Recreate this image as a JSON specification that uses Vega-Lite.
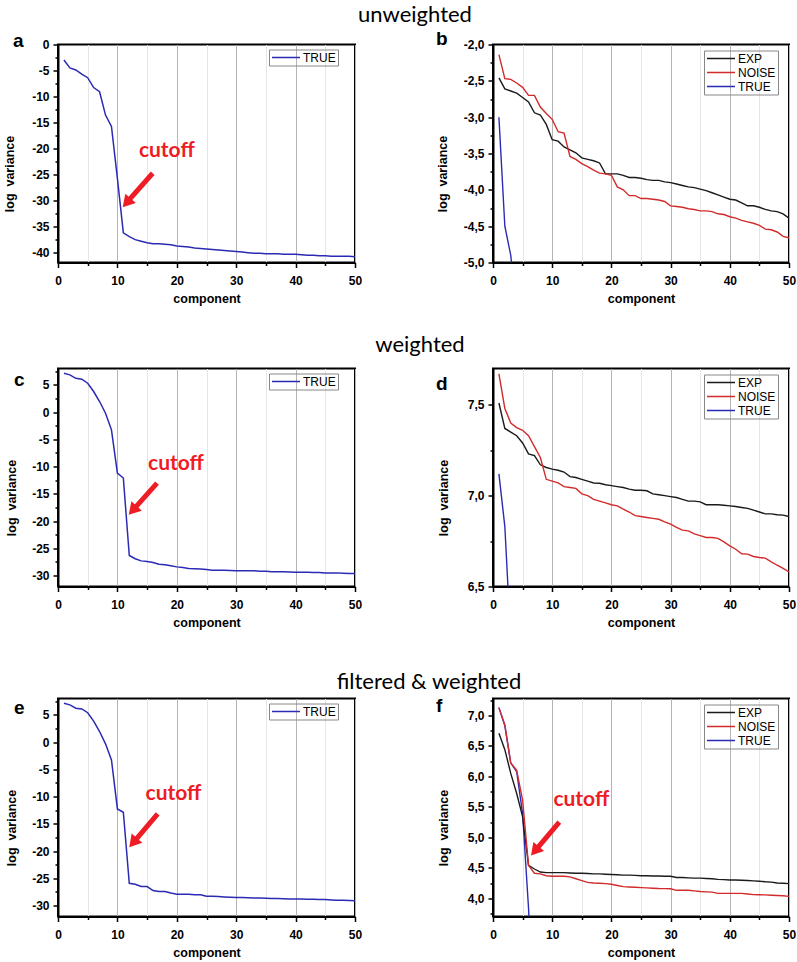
{
"$schema": "https://vega.github.io/schema/vega-lite/v6.json",
"background": "white",
"padding": {"left": 2, "top": 3.5, "right": 2, "bottom": 2},
"config": {
  "font": "Liberation Sans",
  "view": {"stroke": "black", "strokeWidth": 2},
  "axis": {"labelFont": "Liberation Sans", "labelFontWeight": "bold", "labelFontSize": 12, "labelColor": "black", "titleFont": "Liberation Sans", "titleFontWeight": "bold", "titleFontSize": 12.5, "titleColor": "black", "domainColor": "black", "domainWidth": 2, "tickColor": "black", "tickWidth": 1.5, "labelOverlap": false, "labelFlush": false},
  "axisX": {"labelPadding": 8},
  "axisY": {"labelPadding": 4, "grid": false},
  "legend": {"symbolType": "stroke", "symbolSize": 784, "symbolStrokeWidth": 1.5, "labelFont": "Liberation Sans", "labelFontSize": 12, "labelColor": "black", "labelOffset": 2, "rowPadding": 2, "clipHeight": 12, "padding": 2, "strokeColor": "#888888", "cornerRadius": 0}
},
"datasets": {
  "unweighted": [
    {"series":"TRUE","component":1,"value":-3.0},{"series":"TRUE","component":2,"value":-4.5},{"series":"TRUE","component":3,"value":-4.9},{"series":"TRUE","component":4,"value":-5.7},{"series":"TRUE","component":5,"value":-6.4},{"series":"TRUE","component":6,"value":-8.3},{"series":"TRUE","component":7,"value":-9.1},{"series":"TRUE","component":8,"value":-13.6},{"series":"TRUE","component":9,"value":-15.8},{"series":"TRUE","component":10,"value":-25.8},
    {"series":"TRUE","component":11,"value":-36.3},{"series":"TRUE","component":12,"value":-37.0},{"series":"TRUE","component":13,"value":-37.6},{"series":"TRUE","component":14,"value":-37.9},{"series":"TRUE","component":15,"value":-38.2},{"series":"TRUE","component":16,"value":-38.4},{"series":"TRUE","component":17,"value":-38.4},{"series":"TRUE","component":18,"value":-38.5},{"series":"TRUE","component":19,"value":-38.6},{"series":"TRUE","component":20,"value":-38.8},
    {"series":"TRUE","component":21,"value":-38.9},{"series":"TRUE","component":22,"value":-39.0},{"series":"TRUE","component":23,"value":-39.2},{"series":"TRUE","component":24,"value":-39.3},{"series":"TRUE","component":25,"value":-39.4},{"series":"TRUE","component":26,"value":-39.5},{"series":"TRUE","component":27,"value":-39.6},{"series":"TRUE","component":28,"value":-39.7},{"series":"TRUE","component":29,"value":-39.8},{"series":"TRUE","component":30,"value":-39.9},
    {"series":"TRUE","component":31,"value":-40.0},{"series":"TRUE","component":32,"value":-40.1},{"series":"TRUE","component":33,"value":-40.2},{"series":"TRUE","component":34,"value":-40.2},{"series":"TRUE","component":35,"value":-40.3},{"series":"TRUE","component":36,"value":-40.3},{"series":"TRUE","component":37,"value":-40.3},{"series":"TRUE","component":38,"value":-40.4},{"series":"TRUE","component":39,"value":-40.4},{"series":"TRUE","component":40,"value":-40.4},
    {"series":"TRUE","component":41,"value":-40.5},{"series":"TRUE","component":42,"value":-40.6},{"series":"TRUE","component":43,"value":-40.6},{"series":"TRUE","component":44,"value":-40.7},{"series":"TRUE","component":45,"value":-40.7},{"series":"TRUE","component":46,"value":-40.8},{"series":"TRUE","component":47,"value":-40.8},{"series":"TRUE","component":48,"value":-40.8},{"series":"TRUE","component":49,"value":-40.8},{"series":"TRUE","component":50,"value":-40.9},
    {"series":"EXP","component":1,"value":-2.46},{"series":"EXP","component":2,"value":-2.61},{"series":"EXP","component":3,"value":-2.64},{"series":"EXP","component":4,"value":-2.67},{"series":"EXP","component":5,"value":-2.73},{"series":"EXP","component":6,"value":-2.79},{"series":"EXP","component":7,"value":-2.94},{"series":"EXP","component":8,"value":-2.97},{"series":"EXP","component":9,"value":-3.10},{"series":"EXP","component":10,"value":-3.31},
    {"series":"EXP","component":11,"value":-3.33},{"series":"EXP","component":12,"value":-3.41},{"series":"EXP","component":13,"value":-3.45},{"series":"EXP","component":14,"value":-3.49},{"series":"EXP","component":15,"value":-3.56},{"series":"EXP","component":16,"value":-3.58},{"series":"EXP","component":17,"value":-3.60},{"series":"EXP","component":18,"value":-3.63},{"series":"EXP","component":19,"value":-3.78},{"series":"EXP","component":20,"value":-3.78},
    {"series":"EXP","component":21,"value":-3.78},{"series":"EXP","component":22,"value":-3.80},{"series":"EXP","component":23,"value":-3.83},{"series":"EXP","component":24,"value":-3.83},{"series":"EXP","component":25,"value":-3.84},{"series":"EXP","component":26,"value":-3.86},{"series":"EXP","component":27,"value":-3.87},{"series":"EXP","component":28,"value":-3.87},{"series":"EXP","component":29,"value":-3.89},{"series":"EXP","component":30,"value":-3.90},
    {"series":"EXP","component":31,"value":-3.92},{"series":"EXP","component":32,"value":-3.94},{"series":"EXP","component":33,"value":-3.96},{"series":"EXP","component":34,"value":-3.97},{"series":"EXP","component":35,"value":-3.99},{"series":"EXP","component":36,"value":-4.01},{"series":"EXP","component":37,"value":-4.04},{"series":"EXP","component":38,"value":-4.07},{"series":"EXP","component":39,"value":-4.10},{"series":"EXP","component":40,"value":-4.13},
    {"series":"EXP","component":41,"value":-4.14},{"series":"EXP","component":42,"value":-4.18},{"series":"EXP","component":43,"value":-4.22},{"series":"EXP","component":44,"value":-4.22},{"series":"EXP","component":45,"value":-4.24},{"series":"EXP","component":46,"value":-4.27},{"series":"EXP","component":47,"value":-4.29},{"series":"EXP","component":48,"value":-4.30},{"series":"EXP","component":49,"value":-4.33},{"series":"EXP","component":50,"value":-4.39},
    {"series":"NOISE","component":1,"value":-2.14},{"series":"NOISE","component":2,"value":-2.47},{"series":"NOISE","component":3,"value":-2.48},{"series":"NOISE","component":4,"value":-2.53},{"series":"NOISE","component":5,"value":-2.59},{"series":"NOISE","component":6,"value":-2.70},{"series":"NOISE","component":7,"value":-2.70},{"series":"NOISE","component":8,"value":-2.86},{"series":"NOISE","component":9,"value":-2.95},{"series":"NOISE","component":10,"value":-3.03},
    {"series":"NOISE","component":11,"value":-3.20},{"series":"NOISE","component":12,"value":-3.22},{"series":"NOISE","component":13,"value":-3.54},{"series":"NOISE","component":14,"value":-3.58},{"series":"NOISE","component":15,"value":-3.64},{"series":"NOISE","component":16,"value":-3.68},{"series":"NOISE","component":17,"value":-3.73},{"series":"NOISE","component":18,"value":-3.77},{"series":"NOISE","component":19,"value":-3.78},{"series":"NOISE","component":20,"value":-3.80},
    {"series":"NOISE","component":21,"value":-3.96},{"series":"NOISE","component":22,"value":-4.00},{"series":"NOISE","component":23,"value":-4.08},{"series":"NOISE","component":24,"value":-4.08},{"series":"NOISE","component":25,"value":-4.12},{"series":"NOISE","component":26,"value":-4.12},{"series":"NOISE","component":27,"value":-4.13},{"series":"NOISE","component":28,"value":-4.14},{"series":"NOISE","component":29,"value":-4.16},{"series":"NOISE","component":30,"value":-4.22},
    {"series":"NOISE","component":31,"value":-4.23},{"series":"NOISE","component":32,"value":-4.24},{"series":"NOISE","component":33,"value":-4.26},{"series":"NOISE","component":34,"value":-4.27},{"series":"NOISE","component":35,"value":-4.29},{"series":"NOISE","component":36,"value":-4.29},{"series":"NOISE","component":37,"value":-4.30},{"series":"NOISE","component":38,"value":-4.33},{"series":"NOISE","component":39,"value":-4.34},{"series":"NOISE","component":40,"value":-4.37},
    {"series":"NOISE","component":41,"value":-4.39},{"series":"NOISE","component":42,"value":-4.42},{"series":"NOISE","component":43,"value":-4.44},{"series":"NOISE","component":44,"value":-4.46},{"series":"NOISE","component":45,"value":-4.49},{"series":"NOISE","component":46,"value":-4.54},{"series":"NOISE","component":47,"value":-4.55},{"series":"NOISE","component":48,"value":-4.58},{"series":"NOISE","component":49,"value":-4.64},{"series":"NOISE","component":50,"value":-4.66}
  ],
  "weighted": [
    {"series":"TRUE","component":1,"value":7.12},{"series":"TRUE","component":2,"value":6.83},{"series":"TRUE","component":3,"value":6.2},{"series":"TRUE","component":4,"value":6.04},{"series":"TRUE","component":5,"value":5.3},{"series":"TRUE","component":6,"value":3.78},{"series":"TRUE","component":7,"value":1.94},{"series":"TRUE","component":8,"value":-0.2},{"series":"TRUE","component":9,"value":-3.26},{"series":"TRUE","component":10,"value":-11.2},
    {"series":"TRUE","component":11,"value":-12.1},{"series":"TRUE","component":12,"value":-26.3},{"series":"TRUE","component":13,"value":-26.9},{"series":"TRUE","component":14,"value":-27.3},{"series":"TRUE","component":15,"value":-27.4},{"series":"TRUE","component":16,"value":-27.6},{"series":"TRUE","component":17,"value":-27.9},{"series":"TRUE","component":18,"value":-28.0},{"series":"TRUE","component":19,"value":-28.2},{"series":"TRUE","component":20,"value":-28.4},
    {"series":"TRUE","component":21,"value":-28.5},{"series":"TRUE","component":22,"value":-28.7},{"series":"TRUE","component":23,"value":-28.75},{"series":"TRUE","component":24,"value":-28.8},{"series":"TRUE","component":25,"value":-28.9},{"series":"TRUE","component":26,"value":-29.0},{"series":"TRUE","component":27,"value":-29.0},{"series":"TRUE","component":28,"value":-29.0},{"series":"TRUE","component":29,"value":-29.05},{"series":"TRUE","component":30,"value":-29.1},
    {"series":"TRUE","component":31,"value":-29.1},{"series":"TRUE","component":32,"value":-29.1},{"series":"TRUE","component":33,"value":-29.1},{"series":"TRUE","component":34,"value":-29.2},{"series":"TRUE","component":35,"value":-29.2},{"series":"TRUE","component":36,"value":-29.3},{"series":"TRUE","component":37,"value":-29.3},{"series":"TRUE","component":38,"value":-29.3},{"series":"TRUE","component":39,"value":-29.35},{"series":"TRUE","component":40,"value":-29.4},
    {"series":"TRUE","component":41,"value":-29.4},{"series":"TRUE","component":42,"value":-29.4},{"series":"TRUE","component":43,"value":-29.45},{"series":"TRUE","component":44,"value":-29.45},{"series":"TRUE","component":45,"value":-29.5},{"series":"TRUE","component":46,"value":-29.5},{"series":"TRUE","component":47,"value":-29.5},{"series":"TRUE","component":48,"value":-29.55},{"series":"TRUE","component":49,"value":-29.6},{"series":"TRUE","component":50,"value":-29.6},
    {"series":"EXP","component":1,"value":7.51},{"series":"EXP","component":2,"value":7.37},{"series":"EXP","component":3,"value":7.35},{"series":"EXP","component":4,"value":7.33},{"series":"EXP","component":5,"value":7.29},{"series":"EXP","component":6,"value":7.23},{"series":"EXP","component":7,"value":7.22},{"series":"EXP","component":8,"value":7.17},{"series":"EXP","component":9,"value":7.155},{"series":"EXP","component":10,"value":7.146},
    {"series":"EXP","component":11,"value":7.14},{"series":"EXP","component":12,"value":7.13},{"series":"EXP","component":13,"value":7.105},{"series":"EXP","component":14,"value":7.10},{"series":"EXP","component":15,"value":7.09},{"series":"EXP","component":16,"value":7.08},{"series":"EXP","component":17,"value":7.07},{"series":"EXP","component":18,"value":7.068},{"series":"EXP","component":19,"value":7.06},{"series":"EXP","component":20,"value":7.055},
    {"series":"EXP","component":21,"value":7.05},{"series":"EXP","component":22,"value":7.045},{"series":"EXP","component":23,"value":7.036},{"series":"EXP","component":24,"value":7.03},{"series":"EXP","component":25,"value":7.03},{"series":"EXP","component":26,"value":7.027},{"series":"EXP","component":27,"value":7.01},{"series":"EXP","component":28,"value":7.005},{"series":"EXP","component":29,"value":7.0},{"series":"EXP","component":30,"value":6.995},
    {"series":"EXP","component":31,"value":6.99},{"series":"EXP","component":32,"value":6.98},{"series":"EXP","component":33,"value":6.97},{"series":"EXP","component":34,"value":6.97},{"series":"EXP","component":35,"value":6.966},{"series":"EXP","component":36,"value":6.95},{"series":"EXP","component":37,"value":6.95},{"series":"EXP","component":38,"value":6.95},{"series":"EXP","component":39,"value":6.947},{"series":"EXP","component":40,"value":6.944},
    {"series":"EXP","component":41,"value":6.94},{"series":"EXP","component":42,"value":6.935},{"series":"EXP","component":43,"value":6.93},{"series":"EXP","component":44,"value":6.92},{"series":"EXP","component":45,"value":6.91},{"series":"EXP","component":46,"value":6.90},{"series":"EXP","component":47,"value":6.90},{"series":"EXP","component":48,"value":6.895},{"series":"EXP","component":49,"value":6.893},{"series":"EXP","component":50,"value":6.885},
    {"series":"NOISE","component":1,"value":7.67},{"series":"NOISE","component":2,"value":7.48},{"series":"NOISE","component":3,"value":7.40},{"series":"NOISE","component":4,"value":7.375},{"series":"NOISE","component":5,"value":7.36},{"series":"NOISE","component":6,"value":7.33},{"series":"NOISE","component":7,"value":7.27},{"series":"NOISE","component":8,"value":7.21},{"series":"NOISE","component":9,"value":7.09},{"series":"NOISE","component":10,"value":7.08},
    {"series":"NOISE","component":11,"value":7.07},{"series":"NOISE","component":12,"value":7.05},{"series":"NOISE","component":13,"value":7.045},{"series":"NOISE","component":14,"value":7.04},{"series":"NOISE","component":15,"value":7.01},{"series":"NOISE","component":16,"value":7.0},{"series":"NOISE","component":17,"value":6.98},{"series":"NOISE","component":18,"value":6.97},{"series":"NOISE","component":19,"value":6.96},{"series":"NOISE","component":20,"value":6.95},
    {"series":"NOISE","component":21,"value":6.944},{"series":"NOISE","component":22,"value":6.926},{"series":"NOISE","component":23,"value":6.91},{"series":"NOISE","component":24,"value":6.89},{"series":"NOISE","component":25,"value":6.885},{"series":"NOISE","component":26,"value":6.88},{"series":"NOISE","component":27,"value":6.875},{"series":"NOISE","component":28,"value":6.87},{"series":"NOISE","component":29,"value":6.856},{"series":"NOISE","component":30,"value":6.843},
    {"series":"NOISE","component":31,"value":6.825},{"series":"NOISE","component":32,"value":6.81},{"series":"NOISE","component":33,"value":6.806},{"series":"NOISE","component":34,"value":6.79},{"series":"NOISE","component":35,"value":6.78},{"series":"NOISE","component":36,"value":6.77},{"series":"NOISE","component":37,"value":6.77},{"series":"NOISE","component":38,"value":6.765},{"series":"NOISE","component":39,"value":6.746},{"series":"NOISE","component":40,"value":6.724},
    {"series":"NOISE","component":41,"value":6.705},{"series":"NOISE","component":42,"value":6.68},{"series":"NOISE","component":43,"value":6.678},{"series":"NOISE","component":44,"value":6.665},{"series":"NOISE","component":45,"value":6.66},{"series":"NOISE","component":46,"value":6.656},{"series":"NOISE","component":47,"value":6.636},{"series":"NOISE","component":48,"value":6.617},{"series":"NOISE","component":49,"value":6.60},{"series":"NOISE","component":50,"value":6.58}
  ],
  "filtered": [
    {"series":"TRUE","component":1,"value":7.13},{"series":"TRUE","component":2,"value":6.83},{"series":"TRUE","component":3,"value":6.22},{"series":"TRUE","component":4,"value":6.08},{"series":"TRUE","component":5,"value":5.39},{"series":"TRUE","component":6,"value":3.84},{"series":"TRUE","component":7,"value":1.94},{"series":"TRUE","component":8,"value":-0.32},{"series":"TRUE","component":9,"value":-3.26},{"series":"TRUE","component":10,"value":-12.26},
    {"series":"TRUE","component":11,"value":-12.87},{"series":"TRUE","component":12,"value":-25.9},{"series":"TRUE","component":13,"value":-26.1},{"series":"TRUE","component":14,"value":-26.5},{"series":"TRUE","component":15,"value":-26.5},{"series":"TRUE","component":16,"value":-27.25},{"series":"TRUE","component":17,"value":-27.4},{"series":"TRUE","component":18,"value":-27.4},{"series":"TRUE","component":19,"value":-27.7},{"series":"TRUE","component":20,"value":-27.9},
    {"series":"TRUE","component":21,"value":-27.9},{"series":"TRUE","component":22,"value":-27.9},{"series":"TRUE","component":23,"value":-28.0},{"series":"TRUE","component":24,"value":-28.0},{"series":"TRUE","component":25,"value":-28.3},{"series":"TRUE","component":26,"value":-28.3},{"series":"TRUE","component":27,"value":-28.35},{"series":"TRUE","component":28,"value":-28.4},{"series":"TRUE","component":29,"value":-28.45},{"series":"TRUE","component":30,"value":-28.5},
    {"series":"TRUE","component":31,"value":-28.5},{"series":"TRUE","component":32,"value":-28.55},{"series":"TRUE","component":33,"value":-28.6},{"series":"TRUE","component":34,"value":-28.6},{"series":"TRUE","component":35,"value":-28.65},{"series":"TRUE","component":36,"value":-28.7},{"series":"TRUE","component":37,"value":-28.7},{"series":"TRUE","component":38,"value":-28.75},{"series":"TRUE","component":39,"value":-28.8},{"series":"TRUE","component":40,"value":-28.8},
    {"series":"TRUE","component":41,"value":-28.8},{"series":"TRUE","component":42,"value":-28.85},{"series":"TRUE","component":43,"value":-28.85},{"series":"TRUE","component":44,"value":-28.9},{"series":"TRUE","component":45,"value":-28.9},{"series":"TRUE","component":46,"value":-28.95},{"series":"TRUE","component":47,"value":-29.0},{"series":"TRUE","component":48,"value":-29.0},{"series":"TRUE","component":49,"value":-29.05},{"series":"TRUE","component":50,"value":-29.1},
    {"series":"EXP","component":1,"value":6.71},{"series":"EXP","component":2,"value":6.44},{"series":"EXP","component":3,"value":6.05},{"series":"EXP","component":4,"value":5.72},{"series":"EXP","component":5,"value":5.34},{"series":"EXP","component":6,"value":4.54},{"series":"EXP","component":7,"value":4.48},{"series":"EXP","component":8,"value":4.43},{"series":"EXP","component":9,"value":4.42},{"series":"EXP","component":10,"value":4.42},
    {"series":"EXP","component":11,"value":4.42},{"series":"EXP","component":12,"value":4.42},{"series":"EXP","component":13,"value":4.415},{"series":"EXP","component":14,"value":4.41},{"series":"EXP","component":15,"value":4.41},{"series":"EXP","component":16,"value":4.405},{"series":"EXP","component":17,"value":4.40},{"series":"EXP","component":18,"value":4.40},{"series":"EXP","component":19,"value":4.395},{"series":"EXP","component":20,"value":4.39},
    {"series":"EXP","component":21,"value":4.385},{"series":"EXP","component":22,"value":4.38},{"series":"EXP","component":23,"value":4.38},{"series":"EXP","component":24,"value":4.375},{"series":"EXP","component":25,"value":4.37},{"series":"EXP","component":26,"value":4.37},{"series":"EXP","component":27,"value":4.365},{"series":"EXP","component":28,"value":4.365},{"series":"EXP","component":29,"value":4.36},{"series":"EXP","component":30,"value":4.36},
    {"series":"EXP","component":31,"value":4.34},{"series":"EXP","component":32,"value":4.34},{"series":"EXP","component":33,"value":4.335},{"series":"EXP","component":34,"value":4.33},{"series":"EXP","component":35,"value":4.33},{"series":"EXP","component":36,"value":4.325},{"series":"EXP","component":37,"value":4.32},{"series":"EXP","component":38,"value":4.31},{"series":"EXP","component":39,"value":4.305},{"series":"EXP","component":40,"value":4.30},
    {"series":"EXP","component":41,"value":4.30},{"series":"EXP","component":42,"value":4.295},{"series":"EXP","component":43,"value":4.29},{"series":"EXP","component":44,"value":4.285},{"series":"EXP","component":45,"value":4.28},{"series":"EXP","component":46,"value":4.27},{"series":"EXP","component":47,"value":4.265},{"series":"EXP","component":48,"value":4.25},{"series":"EXP","component":49,"value":4.245},{"series":"EXP","component":50,"value":4.24},
    {"series":"NOISE","component":1,"value":7.13},{"series":"NOISE","component":2,"value":6.85},{"series":"NOISE","component":3,"value":6.22},{"series":"NOISE","component":4,"value":6.10},{"series":"NOISE","component":5,"value":5.61},{"series":"NOISE","component":6,"value":4.54},{"series":"NOISE","component":7,"value":4.41},{"series":"NOISE","component":8,"value":4.40},{"series":"NOISE","component":9,"value":4.37},{"series":"NOISE","component":10,"value":4.36},
    {"series":"NOISE","component":11,"value":4.36},{"series":"NOISE","component":12,"value":4.36},{"series":"NOISE","component":13,"value":4.35},{"series":"NOISE","component":14,"value":4.32},{"series":"NOISE","component":15,"value":4.29},{"series":"NOISE","component":16,"value":4.26},{"series":"NOISE","component":17,"value":4.25},{"series":"NOISE","component":18,"value":4.245},{"series":"NOISE","component":19,"value":4.24},{"series":"NOISE","component":20,"value":4.23},
    {"series":"NOISE","component":21,"value":4.21},{"series":"NOISE","component":22,"value":4.19},{"series":"NOISE","component":23,"value":4.185},{"series":"NOISE","component":24,"value":4.18},{"series":"NOISE","component":25,"value":4.175},{"series":"NOISE","component":26,"value":4.17},{"series":"NOISE","component":27,"value":4.165},{"series":"NOISE","component":28,"value":4.16},{"series":"NOISE","component":29,"value":4.158},{"series":"NOISE","component":30,"value":4.155},
    {"series":"NOISE","component":31,"value":4.13},{"series":"NOISE","component":32,"value":4.13},{"series":"NOISE","component":33,"value":4.13},{"series":"NOISE","component":34,"value":4.12},{"series":"NOISE","component":35,"value":4.11},{"series":"NOISE","component":36,"value":4.105},{"series":"NOISE","component":37,"value":4.10},{"series":"NOISE","component":38,"value":4.08},{"series":"NOISE","component":39,"value":4.08},{"series":"NOISE","component":40,"value":4.08},
    {"series":"NOISE","component":41,"value":4.08},{"series":"NOISE","component":42,"value":4.08},{"series":"NOISE","component":43,"value":4.07},{"series":"NOISE","component":44,"value":4.06},{"series":"NOISE","component":45,"value":4.058},{"series":"NOISE","component":46,"value":4.055},{"series":"NOISE","component":47,"value":4.05},{"series":"NOISE","component":48,"value":4.045},{"series":"NOISE","component":49,"value":4.04},{"series":"NOISE","component":50,"value":4.03}
  ]
},
"resolve": {"scale": {"x": "independent", "y": "independent", "color": "independent"}, "legend": {"color": "independent"}},
"bounds": "flush",
"spacing": 324,
"vconcat": [
 {
  "title": {"text": "unweighted", "anchor": "middle", "frame": "group", "offset": 0, "dx": 357, "dy": 15, "baseline": "alphabetic", "font": "Lato", "fontSize": 22, "fontWeight": "normal", "color": "black"},
  "resolve": {"scale": {"x": "independent", "y": "independent", "color": "independent"}, "legend": {"color": "independent"}},
  "bounds": "flush",
  "spacing": 138,
  "hconcat": [
   {
    "width": 297, "height": 218,
    "title": {"text": "a", "anchor": "start", "frame": "group", "offset": 0, "dx": -45, "dy": 27, "baseline": "alphabetic", "font": "Liberation Sans", "fontWeight": "bold", "fontSize": 19, "color": "black"},
    "encoding": {
      "x": {"field": "component", "type": "quantitative", "scale": {"domain": [0, 50], "nice": false, "zero": false},
        "axis": {"values": [0,5,10,15,20,25,30,35,40,45,50], "labelExpr": "datum.value % 10 === 0 ? datum.label : ''", "tickSize": {"condition": {"test": "datum.value % 10 !== 0", "value": 3}, "value": 5}, "grid": true, "gridColor": {"condition": {"test": "datum.value % 10 === 0", "value": "#b4b4b4"}, "value": "#e6e6e6"}, "gridWidth": 1, "title": "component", "titleY": 40, "titleBaseline": "alphabetic"}},
      "y": {"field": "value", "type": "quantitative", "scale": {"domain": [-42, 0], "nice": false, "zero": false},
        "axis": {"values": [-40,-37.5,-35,-32.5,-30,-27.5,-25,-22.5,-20,-17.5,-15,-12.5,-10,-7.5,-5,-2.5,0], "labelExpr": "datum.value % 5 === 0 ? (datum.value < 0 ? '-' : '') + format(abs(datum.value), 'd') : ''", "tickSize": {"condition": {"test": "datum.value % 5 !== 0", "value": 3}, "value": 5}, "title": "log\u00a0\u00a0variance", "titleX": -49, "titleY": 129, "titleBaseline": "middle"}}
    },
    "layer": [
      {"data": {"name": "unweighted"}, "transform": [{"filter": "datum.series === 'TRUE'"}], "mark": {"type": "line", "clip": true, "strokeWidth": 1.5},
       "encoding": {"color": {"field": "series", "type": "nominal", "scale": {"domain": ["TRUE"], "range": ["#2a2ab4"]}, "legend": {"title": null, "orient": "none", "legendX": 211, "legendY": 5}}}},
      {"data": {"values": [{"component": 15.94, "value": -24.8, "component2": 12.0, "value2": -29.9}]}, "mark": {"type": "rule", "color": "#ee1c25", "strokeWidth": 5},
       "encoding": {"x2": {"field": "component2"}, "y2": {"field": "value2"}}},
      {"data": {"values": [{"component": 10.89, "value": -31.35}]}, "mark": {"type": "point", "shape": "M0,0L-1,1.7L1,1.7Z", "size": 196, "filled": true, "color": "#ee1c25", "opacity": 1, "angle": 221.4}},
      {"data": {"values": [{"component": 18.32, "value": -21.7, "label": "cutoff"}]}, "mark": {"type": "text", "font": "Lato", "fontWeight": "bold", "fontSize": 21, "color": "#ee1c25", "baseline": "alphabetic", "align": "center"},
       "encoding": {"text": {"field": "label"}}}
    ]
   },
   {
    "width": 296, "height": 218,
    "title": {"text": "b", "anchor": "start", "frame": "group", "offset": 0, "dx": -57, "dy": 25, "baseline": "alphabetic", "font": "Liberation Sans", "fontWeight": "bold", "fontSize": 19, "color": "black"},
    "encoding": {
      "x": {"field": "component", "type": "quantitative", "scale": {"domain": [0, 50], "nice": false, "zero": false},
        "axis": {"values": [0,5,10,15,20,25,30,35,40,45,50], "labelExpr": "datum.value % 10 === 0 ? datum.label : ''", "tickSize": {"condition": {"test": "datum.value % 10 !== 0", "value": 3}, "value": 5}, "grid": true, "gridColor": {"condition": {"test": "datum.value % 10 === 0", "value": "#b4b4b4"}, "value": "#e6e6e6"}, "gridWidth": 1, "title": "component", "titleY": 40, "titleBaseline": "alphabetic"}},
      "y": {"field": "value", "type": "quantitative", "scale": {"domain": [-5, -2], "nice": false, "zero": false},
        "axis": {"values": [-5,-4.75,-4.5,-4.25,-4,-3.75,-3.5,-3.25,-3,-2.75,-2.5,-2.25,-2], "labelExpr": "round(datum.value*2) === datum.value*2 ? (datum.value < 0 ? '-' : '') + replace(format(abs(datum.value), '.1f'), '.', ',') : ''", "tickSize": {"condition": {"test": "round(datum.value*2) !== datum.value*2", "value": 3}, "value": 5}, "title": "log\u00a0\u00a0variance", "titleX": -51, "titleY": 129, "titleBaseline": "middle"}}
    },
    "layer": [
      {"data": {"name": "unweighted"}, "mark": {"type": "line", "clip": true, "strokeWidth": 1.4},
       "encoding": {"color": {"field": "series", "type": "nominal", "scale": {"domain": ["EXP", "NOISE", "TRUE"], "range": ["#1a1a1a", "#d22b2b", "#2a2ab4"]}, "legend": {"title": null, "orient": "none", "legendX": 211, "legendY": 6}}}}
    ]
   }
  ]
 },
 {
  "resolve": {"scale": {"x": "independent", "y": "independent", "color": "independent"}, "legend": {"color": "independent"}},
  "bounds": "flush",
  "spacing": 330,
  "vconcat": [
   {
    "title": {"text": "weighted", "anchor": "middle", "frame": "group", "offset": 0, "dx": 362, "dy": 10, "baseline": "alphabetic", "font": "Lato", "fontSize": 22, "fontWeight": "normal", "color": "black"},
    "resolve": {"scale": {"x": "independent", "y": "independent", "color": "independent"}, "legend": {"color": "independent"}},
    "bounds": "flush",
    "spacing": 138,
    "hconcat": [
     {
      "width": 297, "height": 218,
      "title": {"text": "c", "anchor": "start", "frame": "group", "offset": 0, "dx": -44, "dy": 40, "baseline": "alphabetic", "font": "Liberation Sans", "fontWeight": "bold", "fontSize": 19, "color": "black"},
      "encoding": {
        "x": {"field": "component", "type": "quantitative", "scale": {"domain": [0, 50], "nice": false, "zero": false},
          "axis": {"values": [0,5,10,15,20,25,30,35,40,45,50], "labelExpr": "datum.value % 10 === 0 ? datum.label : ''", "tickSize": {"condition": {"test": "datum.value % 10 !== 0", "value": 3}, "value": 5}, "grid": true, "gridColor": {"condition": {"test": "datum.value % 10 === 0", "value": "#b4b4b4"}, "value": "#e6e6e6"}, "gridWidth": 1, "title": "component", "titleY": 40, "titleBaseline": "alphabetic"}},
        "y": {"field": "value", "type": "quantitative", "scale": {"domain": [-32, 8], "nice": false, "zero": false},
          "axis": {"values": [-30,-27.5,-25,-22.5,-20,-17.5,-15,-12.5,-10,-7.5,-5,-2.5,0,2.5,5,7.5], "labelExpr": "datum.value % 5 === 0 ? (datum.value < 0 ? '-' : '') + format(abs(datum.value), 'd') : ''", "tickSize": {"condition": {"test": "datum.value % 5 !== 0", "value": 3}, "value": 5}, "title": "log\u00a0\u00a0variance", "titleX": -47, "titleY": 129, "titleBaseline": "middle"}}
      },
      "layer": [
        {"data": {"name": "weighted"}, "transform": [{"filter": "datum.series === 'TRUE'"}], "mark": {"type": "line", "clip": true, "strokeWidth": 1.5},
         "encoding": {"color": {"field": "series", "type": "nominal", "scale": {"domain": ["TRUE"], "range": ["#2a2ab4"]}, "legend": {"title": null, "orient": "none", "legendX": 211, "legendY": 5}}}},
        {"data": {"values": [{"component": 16.67, "value": -13.04, "component2": 13.03, "value2": -17.47}]}, "mark": {"type": "rule", "color": "#ee1c25", "strokeWidth": 5},
         "encoding": {"x2": {"field": "component2"}, "y2": {"field": "value2"}}},
        {"data": {"values": [{"component": 11.9, "value": -18.85}]}, "mark": {"type": "point", "shape": "M0,0L-1,1.7L1,1.7Z", "size": 196, "filled": true, "color": "#ee1c25", "opacity": 1, "angle": 221.8}},
        {"data": {"values": [{"component": 19.87, "value": -10.59, "label": "cutoff"}]}, "mark": {"type": "text", "font": "Lato", "fontWeight": "bold", "fontSize": 21, "color": "#ee1c25", "baseline": "alphabetic", "align": "center"},
         "encoding": {"text": {"field": "label"}}}
      ]
     },
     {
      "width": 296, "height": 218,
      "title": {"text": "d", "anchor": "start", "frame": "group", "offset": 0, "dx": -57, "dy": 40, "baseline": "alphabetic", "font": "Liberation Sans", "fontWeight": "bold", "fontSize": 19, "color": "black"},
      "encoding": {
        "x": {"field": "component", "type": "quantitative", "scale": {"domain": [0, 50], "nice": false, "zero": false},
          "axis": {"values": [0,5,10,15,20,25,30,35,40,45,50], "labelExpr": "datum.value % 10 === 0 ? datum.label : ''", "tickSize": {"condition": {"test": "datum.value % 10 !== 0", "value": 3}, "value": 5}, "grid": true, "gridColor": {"condition": {"test": "datum.value % 10 === 0", "value": "#b4b4b4"}, "value": "#e6e6e6"}, "gridWidth": 1, "title": "component", "titleY": 40, "titleBaseline": "alphabetic"}},
        "y": {"field": "value", "type": "quantitative", "scale": {"domain": [6.5, 7.7], "nice": false, "zero": false},
          "axis": {"values": [6.5,6.75,7,7.25,7.5], "labelExpr": "round(datum.value*2) === datum.value*2 ? (datum.value < 0 ? '-' : '') + replace(format(abs(datum.value), '.1f'), '.', ',') : ''", "tickSize": {"condition": {"test": "round(datum.value*2) !== datum.value*2", "value": 3}, "value": 5}, "title": "log\u00a0\u00a0variance", "titleX": -50, "titleY": 129, "titleBaseline": "middle"}}
      },
      "layer": [
        {"data": {"name": "weighted"}, "mark": {"type": "line", "clip": true, "strokeWidth": 1.4},
         "encoding": {"color": {"field": "series", "type": "nominal", "scale": {"domain": ["EXP", "NOISE", "TRUE"], "range": ["#1a1a1a", "#d22b2b", "#2a2ab4"]}, "legend": {"title": null, "orient": "none", "legendX": 211, "legendY": 6}}}}
      ]
     }
    ]
   },
   {
    "title": {"text": "filtered & weighted", "anchor": "middle", "frame": "group", "offset": 0, "dx": 371, "dy": 18, "baseline": "alphabetic", "font": "Lato", "fontSize": 22, "fontWeight": "normal", "color": "black"},
    "resolve": {"scale": {"x": "independent", "y": "independent", "color": "independent"}, "legend": {"color": "independent"}},
    "bounds": "flush",
    "spacing": 138,
    "hconcat": [
     {
      "width": 297, "height": 218,
      "title": {"text": "e", "anchor": "start", "frame": "group", "offset": 0, "dx": -44, "dy": 38, "baseline": "alphabetic", "font": "Liberation Sans", "fontWeight": "bold", "fontSize": 19, "color": "black"},
      "encoding": {
        "x": {"field": "component", "type": "quantitative", "scale": {"domain": [0, 50], "nice": false, "zero": false},
          "axis": {"values": [0,5,10,15,20,25,30,35,40,45,50], "labelExpr": "datum.value % 10 === 0 ? datum.label : ''", "tickSize": {"condition": {"test": "datum.value % 10 !== 0", "value": 3}, "value": 5}, "grid": true, "gridColor": {"condition": {"test": "datum.value % 10 === 0", "value": "#b4b4b4"}, "value": "#e6e6e6"}, "gridWidth": 1, "title": "component", "titleY": 40, "titleBaseline": "alphabetic"}},
        "y": {"field": "value", "type": "quantitative", "scale": {"domain": [-32, 8], "nice": false, "zero": false},
          "axis": {"values": [-30,-27.5,-25,-22.5,-20,-17.5,-15,-12.5,-10,-7.5,-5,-2.5,0,2.5,5,7.5], "labelExpr": "datum.value % 5 === 0 ? (datum.value < 0 ? '-' : '') + format(abs(datum.value), 'd') : ''", "tickSize": {"condition": {"test": "datum.value % 5 !== 0", "value": 3}, "value": 5}, "title": "log\u00a0\u00a0variance", "titleX": -47, "titleY": 129, "titleBaseline": "middle"}}
      },
      "layer": [
        {"data": {"name": "filtered"}, "transform": [{"filter": "datum.series === 'TRUE'"}], "mark": {"type": "line", "clip": true, "strokeWidth": 1.5},
         "encoding": {"color": {"field": "series", "type": "nominal", "scale": {"domain": ["TRUE"], "range": ["#2a2ab4"]}, "legend": {"title": null, "orient": "none", "legendX": 211, "legendY": 5}}}},
        {"data": {"values": [{"component": 16.78, "value": -13.16, "component2": 13.1, "value2": -17.89}]}, "mark": {"type": "rule", "color": "#ee1c25", "strokeWidth": 5},
         "encoding": {"x2": {"field": "component2"}, "y2": {"field": "value2"}}},
        {"data": {"values": [{"component": 12.0, "value": -19.28}]}, "mark": {"type": "point", "shape": "M0,0L-1,1.7L1,1.7Z", "size": 196, "filled": true, "color": "#ee1c25", "opacity": 1, "angle": 220.4}},
        {"data": {"values": [{"component": 19.44, "value": -10.59, "label": "cutoff"}]}, "mark": {"type": "text", "font": "Lato", "fontWeight": "bold", "fontSize": 21, "color": "#ee1c25", "baseline": "alphabetic", "align": "center"},
         "encoding": {"text": {"field": "label"}}}
      ]
     },
     {
      "width": 296, "height": 218,
      "title": {"text": "f", "anchor": "start", "frame": "group", "offset": 0, "dx": -57, "dy": 37, "baseline": "alphabetic", "font": "Liberation Sans", "fontWeight": "bold", "fontSize": 19, "color": "black"},
      "encoding": {
        "x": {"field": "component", "type": "quantitative", "scale": {"domain": [0, 50], "nice": false, "zero": false},
          "axis": {"values": [0,5,10,15,20,25,30,35,40,45,50], "labelExpr": "datum.value % 10 === 0 ? datum.label : ''", "tickSize": {"condition": {"test": "datum.value % 10 !== 0", "value": 3}, "value": 5}, "grid": true, "gridColor": {"condition": {"test": "datum.value % 10 === 0", "value": "#b4b4b4"}, "value": "#e6e6e6"}, "gridWidth": 1, "title": "component", "titleY": 40, "titleBaseline": "alphabetic"}},
        "y": {"field": "value", "type": "quantitative", "scale": {"domain": [3.7, 7.28], "nice": false, "zero": false},
          "axis": {"values": [3.75,4,4.25,4.5,4.75,5,5.25,5.5,5.75,6,6.25,6.5,6.75,7,7.25], "labelExpr": "round(datum.value*2) === datum.value*2 ? (datum.value < 0 ? '-' : '') + replace(format(abs(datum.value), '.1f'), '.', ',') : ''", "tickSize": {"condition": {"test": "round(datum.value*2) !== datum.value*2", "value": 3}, "value": 5}, "title": "log\u00a0\u00a0variance", "titleX": -50, "titleY": 129, "titleBaseline": "middle"}}
      },
      "layer": [
        {"data": {"name": "filtered"}, "mark": {"type": "line", "clip": true, "strokeWidth": 1.4},
         "encoding": {"color": {"field": "series", "type": "nominal", "scale": {"domain": ["EXP", "NOISE", "TRUE"], "range": ["#1a1a1a", "#d22b2b", "#2a2ab4"]}, "legend": {"title": null, "orient": "none", "legendX": 211, "legendY": 6}}}},
        {"data": {"values": [{"component": 11.2, "value": 5.249, "component2": 7.52, "value2": 4.827}]}, "mark": {"type": "rule", "color": "#ee1c25", "strokeWidth": 5},
         "encoding": {"x2": {"field": "component2"}, "y2": {"field": "value2"}}},
        {"data": {"values": [{"component": 6.42, "value": 4.702}]}, "mark": {"type": "point", "shape": "M0,0L-1,1.7L1,1.7Z", "size": 196, "filled": true, "color": "#ee1c25", "opacity": 1, "angle": 220.4}},
        {"data": {"values": [{"component": 14.92, "value": 5.507, "label": "cutoff"}]}, "mark": {"type": "text", "font": "Lato", "fontWeight": "bold", "fontSize": 21, "color": "#ee1c25", "baseline": "alphabetic", "align": "center"},
         "encoding": {"text": {"field": "label"}}}
      ]
     }
    ]
   }
  ]
 }
]
}
